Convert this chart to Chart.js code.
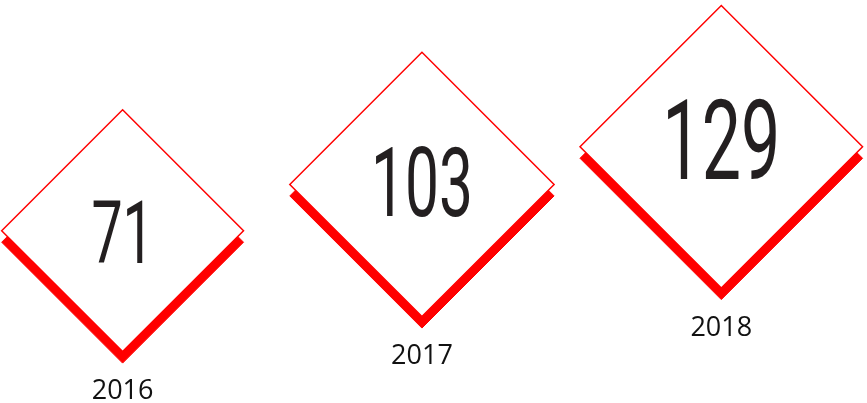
<!DOCTYPE html>
<html>
<head>
<meta charset="utf-8">
<script src="https://cdn.jsdelivr.net/npm/chart.js@4.4.1/dist/chart.umd.min.js"></script>
<style>
  html, body { margin: 0; padding: 0; background: #fff; }
  #wrap { width: 867px; height: 403px; position: relative; }
</style>
</head>
<body>
<div id="wrap"><canvas id="chart"></canvas></div>
<script>
'use strict';

var years = ['2016', '2017', '2018'];
var counts = [71, 103, 129];

// size of the big figure inside each diamond (px)
var numberSizes = [88, 96, 111];

var RED = '#ff0000';
var SHADOW_DROP = 11.5;

// diamond half-diagonal grows with the value
function diamondRadius(c) {
    if (c.raw == null) return 0;
    return 96 + 0.351 * c.raw;
}

// second dataset is the red shadow, pushed down a bit
var dropShadow = {
    id: 'dropShadow',
    beforeDatasetDraw: function (chart, args) {
        if (args.index !== 1) return;
        chart.ctx.save();
        chart.ctx.translate(0, SHADOW_DROP);
    },
    afterDatasetDraw: function (chart, args) {
        if (args.index !== 1) return;
        chart.ctx.restore();
    }
};

var diamondText = {
    id: 'diamondText',
    afterDatasetsDraw: function (chart) {
        var ctx = chart.ctx;
        var values = chart.data.datasets[0].data;
        chart.getDatasetMeta(0).data.forEach(function (pt, i) {
            var r = pt.options.radius;

            ctx.save();
            ctx.fillStyle = '#231f20';
            ctx.textAlign = 'center';
            ctx.textBaseline = 'alphabetic';
            ctx.font = numberSizes[i] + 'px Roboto';
            ctx.translate(pt.x, pt.y + 32);
            ctx.scale(0.63, 1);
            ctx.fillText(String(values[i]), 0, 0);
            ctx.restore();

            ctx.save();
            ctx.fillStyle = '#111';
            ctx.textAlign = 'center';
            ctx.textBaseline = 'alphabetic';
            ctx.font = '27px "Open Sans"';
            ctx.fillText(chart.data.labels[i], pt.x, pt.y + r + 47.5);
            ctx.restore();
        });
    }
};

drawDiamonds();

function drawDiamonds() {
    var ctx = document.getElementById('chart').getContext('2d');
    var myChart = new Chart(ctx, {
        type: 'line',
        data: {
            labels: years,
            datasets: [{
                label: 'count',
                data: counts,
                showLine: false,
                pointStyle: 'rectRot',
                pointRadius: diamondRadius,
                pointBackgroundColor: '#ffffff',
                pointBorderColor: RED,
                pointBorderWidth: 1.5,
                clip: false,
                order: 0
            }, {
                label: 'shadow',
                data: counts,
                showLine: false,
                pointStyle: 'rectRot',
                pointRadius: diamondRadius,
                pointBackgroundColor: RED,
                pointBorderColor: RED,
                pointBorderWidth: 1,
                clip: false,
                order: 1
            }]
        },
        options: {
            responsive: true,
            maintainAspectRatio: false,
            animation: false,
            events: [],
            layout: {
                autoPadding: false,
                padding: { left: 122.6, right: 145.7, top: 44.1, bottom: 69.6 }
            },
            plugins: {
                legend: { display: false },
                tooltip: { enabled: false }
            },
            scales: {
                x: { display: false },
                y: { display: false, min: 0, max: 200 }
            }
        },
        plugins: [dropShadow, diamondText]
    });
}
</script>
</body>
</html>
